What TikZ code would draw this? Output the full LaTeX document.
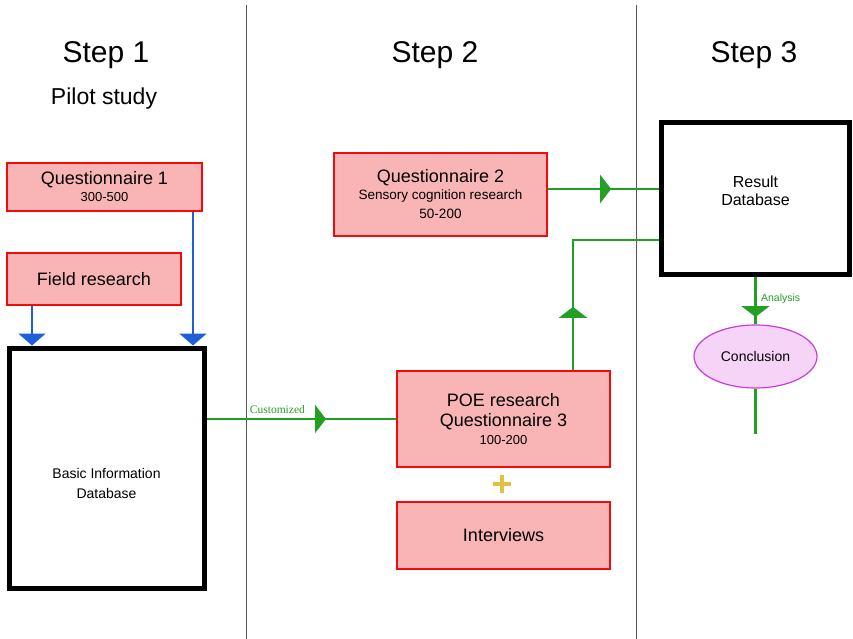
\documentclass[tikz,border=0pt]{standalone}
\usepackage{fontspec}
\setmainfont{Liberation Sans}
\newfontfamily\captionserif{Liberation Serif}
\usetikzlibrary{arrows.meta,decorations.markings,shapes.geometric}

\definecolor{boxfill}{HTML}{F9B4B5}
\definecolor{boxline}{HTML}{F50A0A}
\definecolor{flowgreen}{HTML}{23A023}
\definecolor{flowblue}{HTML}{1E5FD8}
\definecolor{ellfill}{HTML}{F5D4F8}
\definecolor{ellline}{HTML}{C63ED6}
\definecolor{plusyellow}{HTML}{E2C043}
\definecolor{divider}{HTML}{555555}

\newcommand\fsz[2]{\fontsize{#1}{#2}\selectfont}

\tikzset{
  redbox/.style={draw=boxline, fill=boxfill, line width=2.8pt, rectangle,
    inner sep=0pt, align=center, font=\fsz{18}{20}},
  dbbox/.style={draw=black, line width=5pt, rectangle, inner sep=0pt, fill=white},
  heading/.style={anchor=base, font=\fsz{30}{34}},
  gline/.style={draw=flowgreen, line width=2.5pt},
  bline/.style={draw=flowblue, line width=2.5pt,
    -{Triangle[length=12pt,width=27pt]}},
  midtri/.style={postaction={decorate, decoration={markings,
    mark=at position #1 with {\arrow{Triangle[length=11pt,width=28pt]}}}}},
  divline/.style={draw=divider, line width=0.8pt},
}

\begin{document}
\begin{tikzpicture}[x=1pt,y=-1pt]
\useasboundingbox (0,0) rectangle (853,639);

% column dividers
\coordinate (d1t) at (246,5);  \coordinate (d1b) at (246,639);
\coordinate (d2t) at (636,5);  \coordinate (d2b) at (636,639);
\draw[divline] (d1t) -- (d1b);
\draw[divline] (d2t) -- (d2b);

% headings
\node[heading] (h1) at (106,63) {Step 1};
\node[heading, font=\fsz{23}{26}] (h1sub) at (104,105) {Pilot study};
\node[heading] (h2) at (435,63) {Step 2};
\node[heading] (h3) at (754,63) {Step 3};

% step 1
\node[redbox, minimum width=195pt, minimum height=48pt] (q1) at (104.5,187)
  {Questionnaire 1\\[-3pt]{\fsz{13}{15}300-500}};
\node[redbox, minimum width=174pt, minimum height=52pt] (field) at (94,279)
  {Field research};
\node[dbbox, minimum width=195pt, minimum height=240pt,
  label={[align=center, font=\fsz{14}{20}, yshift=-15pt]center:Basic Information\\Database}]
  (basic) at (106.5,468) {};

% step 2
\node[redbox, minimum width=213pt, minimum height=83pt] (q2) at (440.5,194.5)
  {Questionnaire 2\\[-3pt]{\fsz{13.5}{16}Sensory cognition research}\\[-1pt]{\fsz{13.5}{16}50-200}};
\node[redbox, minimum width=213pt, minimum height=96pt] (poe) at (503.5,419)
  {POE research\\Questionnaire 3\\[-2pt]{\fsz{13}{15}100-200}};
\node[redbox, minimum width=213pt, minimum height=67pt] (intv) at (503.5,535.5)
  {Interviews};

% step 3
\node[dbbox, minimum width=188pt, minimum height=151pt,
  label={[align=center, font=\fsz{16}{18}, yshift=7.5pt]center:Result\\Database}]
  (res) at (755.5,198.5) {};
\node[ellipse, draw=ellline, fill=ellfill, line width=1.2pt, inner sep=0pt,
  minimum width=123pt, minimum height=63pt, font=\fsz{14}{16}] (concl) at (755.5,356.5)
  {Conclusion};
\coordinate (cend) at (755.5,434);

% helper positions for connectors
\coordinate (xa) at (32,0);
\coordinate (xb) at (193,0);
\coordinate (xc) at (573,0);
\coordinate (ya) at (0,189);
\coordinate (yb) at (0,240);

% blue inputs into the basic database
\draw[bline] (field.south -| xa) -- (basic.north -| xa);
\draw[bline] (q1.south -| xb) -- (basic.north -| xb);

% green flow
\draw[gline, midtri=119.5pt] (basic.east |- poe.west) -- (poe.west)
  node[pos=0.375, anchor=base, yshift=5.5pt, text=flowgreen,
       font=\captionserif\fsz{11.5}{13}] {Customized};
\draw[gline, midtri=62.75pt] (q2.east |- ya) -- (res.west |- ya);
\draw[gline, midtri=62.75pt] (poe.north -| xc) |- (res.west |- yb);
\draw[gline, midtri=40.5pt] (res.south) -- (concl.north)
  node[pos=0.47, anchor=west, xshift=1pt, text=flowgreen,
       font=\fsz{10.5}{12}] {Analysis};
\draw[gline] (concl.south) -- (cend);

% plus between POE research and interviews
\coordinate (plus) at (502,483.5);
\draw[plusyellow, line width=4pt] ([xshift=-9pt]plus) -- ([xshift=9pt]plus);
\draw[plusyellow, line width=4pt] ([yshift=-9pt]plus) -- ([yshift=9pt]plus);
\end{tikzpicture}
\end{document}
